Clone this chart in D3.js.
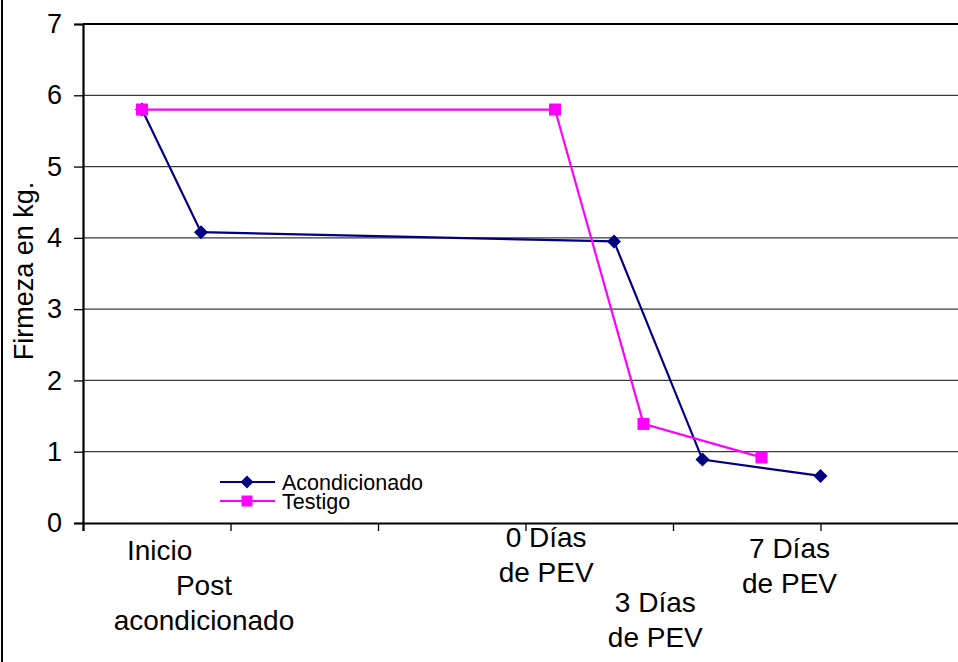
<!DOCTYPE html>
<html>
<head>
<meta charset="utf-8">
<script src="https://cdn.jsdelivr.net/npm/d3@7"></script>
<style>
  html, body { margin: 0; padding: 0; background: #fff; }
  svg { display: block; font-family: "Liberation Sans", Arial, sans-serif; }
</style>
</head>
<body>
<svg id="chart" width="958" height="662"></svg>
<script>
// Series data (x in axis units, y = firmeza kg)
var seriesNames = ["Acondicionado", "Testigo"];
var acondX = [0.4, 0.8, 3.6, 4.2, 5.0];
var acondY = [5.8, 4.08, 3.95, 0.89, 0.66];
var testigoX = [0.4, 3.2, 3.8, 4.6];
var testigoY = [5.8, 5.8, 1.39, 0.92];
var yTicks = [0, 1, 2, 3, 4, 5, 6, 7];
var xTicks = [0, 1, 2, 3, 4, 5, 6];
var stageLabels = [["Inicio"], ["Post", "acondicionado"], ["0 Días", "de PEV"], ["3 Días", "de PEV"], ["7 Días", "de PEV"]];
var stageLabelX = [0.52, 0.82, 3.14, 3.88, 4.79];
var stageLabelBaseline = [560, 595, 547, 612, 558];

var svg = d3.select("#chart"),
	margin = {left: 83, top: 24},
	plotBottom = 523,
	plotRight = 968;

var x = d3.scaleLinear().domain([0, 6]).range([margin.left, plotRight]);
var y = d3.scaleLinear().domain([0, 7]).range([plotBottom, margin.top]);

// chart area border (left edge only visible)
svg.append("line")
	.attr("x1", 2).attr("x2", 2).attr("y1", 0).attr("y2", 662)
	.attr("stroke", "#000").attr("stroke-width", 2);

// gridlines
svg.append("g")
	.selectAll("line")
	.data(yTicks.filter(function(d){ return d > 0 && d < 7; }))
	.enter().append("line")
	.attr("x1", margin.left).attr("x2", plotRight)
	.attr("y1", function(d){ return y(d); })
	.attr("y2", function(d){ return y(d); })
	.attr("stroke", "#3a3a3a").attr("stroke-width", 1.3);

// plot top border
svg.append("line")
	.attr("x1", margin.left).attr("x2", plotRight)
	.attr("y1", y(7)).attr("y2", y(7))
	.attr("stroke", "#000").attr("stroke-width", 2.2);

// y axis
var yAxis = svg.append("g")
	.attr("transform", "translate(" + margin.left + ",0)")
	.call(d3.axisLeft(y).tickValues(yTicks).tickSize(9).tickPadding(12).tickFormat(d3.format("d")));
yAxis.select(".domain").attr("stroke-width", 2.2);
yAxis.selectAll(".tick line").attr("stroke-width", 1.3);
yAxis.selectAll("text").attr("font-size", 27).attr("fill", "#000")
	.attr("font-family", "'Liberation Sans', Arial, sans-serif");

// x axis (no labels)
var xAxis = svg.append("g")
	.attr("transform", "translate(0," + plotBottom + ")")
	.call(d3.axisBottom(x).tickValues(xTicks).tickSize(8).tickFormat(""));
xAxis.select(".domain").attr("stroke-width", 2.2);
xAxis.selectAll(".tick line").attr("stroke-width", 1.3);

// y title
svg.append("text")
	.attr("transform", "translate(33," + 271 + ") rotate(-90)")
	.attr("text-anchor", "middle")
	.attr("font-size", 27)
	.text("Firmeza en kg.");

// stage labels
stageLabels.forEach(function(lines, i){
	var t = svg.append("text")
		.attr("text-anchor", "middle")
		.attr("font-size", 28);
	lines.forEach(function(s, j){
		t.append("tspan")
			.attr("x", x(stageLabelX[i]))
			.attr("y", stageLabelBaseline[i] + j * 35)
			.text(s);
	});
});

var series = [
	{name: seriesNames[0], xs: acondX, ys: acondY, color: "#000080", marker: "diamond"},
	{name: seriesNames[1], xs: testigoX, ys: testigoY, color: "#ff00ff", marker: "square"}
];

var line = d3.line()
	.x(function(d){ return x(d[0]); })
	.y(function(d){ return y(d[1]); });

function drawMarker(g, kind, color, cx, cy, s) {
	if (kind === "diamond") {
		g.append("path")
			.attr("d", "M" + cx + "," + (cy - s) + "L" + (cx + s) + "," + cy + "L" + cx + "," + (cy + s) + "L" + (cx - s) + "," + cy + "Z")
			.attr("fill", color);
	} else {
		g.append("rect")
			.attr("x", cx - s).attr("y", cy - s)
			.attr("width", 2 * s).attr("height", 2 * s)
			.attr("fill", color);
	}
}

series.forEach(function(sr){
	var pts = d3.zip(sr.xs, sr.ys);
	var g = svg.append("g");
	g.append("path")
		.datum(pts)
		.attr("d", line)
		.attr("fill", "none")
		.attr("stroke", sr.color)
		.attr("stroke-width", 2.2);
	pts.forEach(function(p){
		drawMarker(g, sr.marker, sr.color, x(p[0]), y(p[1]), sr.marker === "diamond" ? 7 : 6);
	});
});

// legend
var legend = svg.append("g");
series.forEach(function(sr, i){
	var ly = 482 + i * 19;
	legend.append("line")
		.attr("x1", 220).attr("x2", 275).attr("y1", ly).attr("y2", ly)
		.attr("stroke", sr.color).attr("stroke-width", 2.2);
	drawMarker(legend, sr.marker, sr.color, 247, ly, sr.marker === "diamond" ? 6.5 : 5.5);
	legend.append("text")
		.attr("x", 282).attr("y", ly + 7.5)
		.attr("font-size", 21.5)
		.text(sr.name);
});
</script>
</body>
</html>
